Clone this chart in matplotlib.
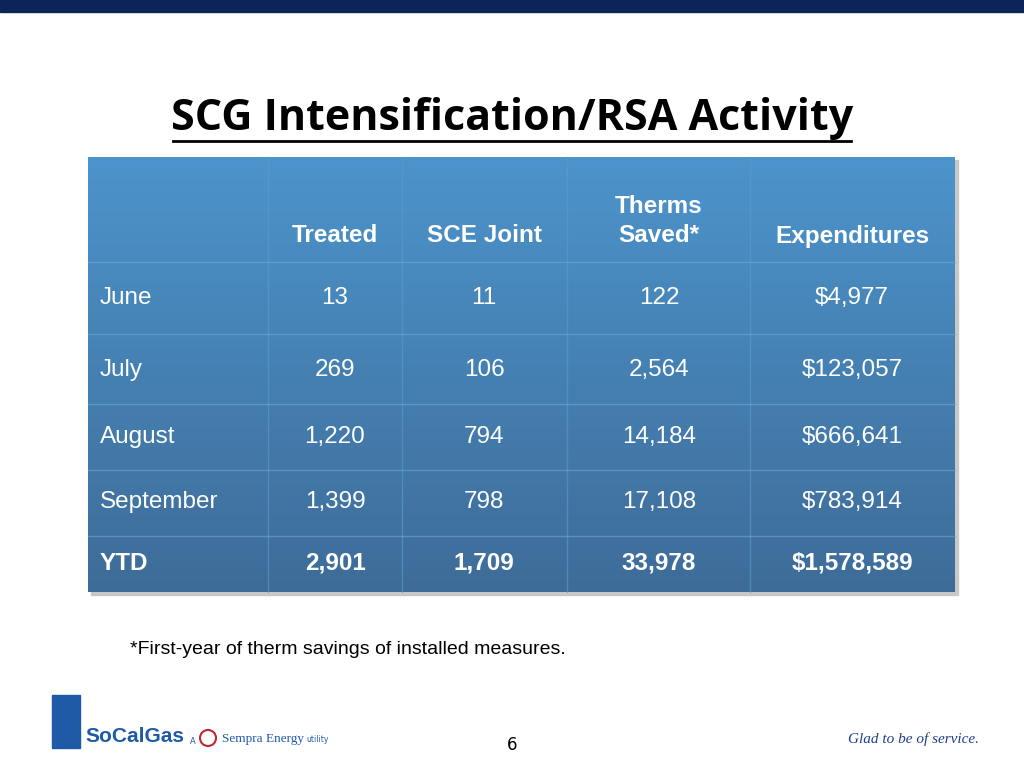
import numpy as np
import matplotlib.pyplot as plt
from matplotlib.patches import Rectangle

headers = ["", "Treated", "SCE Joint", "Therms\nSaved*", "Expenditures"]
months = ["June", "July", "August", "September", "YTD"]
treated = ["13", "269", "1,220", "1,399", "2,901"]
sce_joint = ["11", "106", "794", "798", "1,709"]
therms = ["122", "2,564", "14,184", "17,108", "33,978"]
expend = ["$4,977", "$123,057", "$666,641", "$783,914", "$1,578,589"]

fig = plt.figure(figsize=(10.24, 7.68), dpi=100)
ax = fig.add_axes([0, 0, 1, 1])
ax.set_xlim(0, 1024)
ax.set_ylim(768, 0)
ax.axis("off")

# top band
ax.add_patch(Rectangle((0, 0), 1024, 12, color="#0c2458"))

ax.text(512, 118, "SCG Intensification/RSA Activity", ha="center", va="center",
        fontsize=31, fontweight="bold", family="Open Sans", color="black")
ax.plot([173, 851], [141, 141], color="black", lw=2)

# table panel with gradient
x0, x1, y0, y1 = 88, 955, 157, 592
ax.add_patch(Rectangle((x0 + 3, y0 + 3), x1 - x0, y1 - y0, color="#c8c8c8", zorder=0))
top = np.array([0x4c, 0x94, 0xcc]) / 255
bot = np.array([0x3e, 0x6c, 0x98]) / 255
t = np.linspace(0, 1, 256)[:, None, None]
grad = top * (1 - t) + bot * t
ax.imshow(np.repeat(grad, 2, axis=1), extent=(x0, x1, y1, y0), aspect="auto", zorder=1)

cols = [x0, 268, 402, 567, 750, x1]
for cx in cols[1:-1]:
    ax.plot([cx, cx], [y0, y1], color="#5a9ccf", lw=1, alpha=0.6, zorder=2)
for ry in [262, 334, 404, 470, 536]:
    ax.plot([x0, x1], [ry, ry], color="#6aa8d8", lw=1, alpha=0.6, zorder=2)

fs = 17.5
centers = [None, 335, 484, 659, 852]
for i, h in enumerate(headers[1:], start=1):
    ax.text(centers[i], 236 if "\n" not in h else 221, h, ha="center", va="center",
            fontsize=fs, fontweight="bold", color="white", family="Liberation Sans",
            linespacing=1.35, zorder=3)

row_y = [298, 370, 437, 502, 563]
for r, m in enumerate(months):
    bold = "bold" if m == "YTD" else "normal"
    ax.text(100, row_y[r], m, ha="left", va="center", fontsize=fs,
            fontweight=bold, color="white", family="Liberation Sans", zorder=3)
    for c, col in enumerate([treated, sce_joint, therms, expend], start=1):
        ax.text(centers[c], row_y[r], col[r], ha="center", va="center", fontsize=fs,
                fontweight=bold, color="white", family="Liberation Sans", zorder=3)

ax.text(130, 649, "*First-year of therm savings of installed measures.", ha="left",
        va="center", fontsize=14, color="black", family="Liberation Sans")

# logo area
ax.add_patch(Rectangle((52, 695), 28, 53, color="#1f5aa6"))
ax.text(85, 736, "SoCalGas", ha="left", va="center", fontsize=15, fontweight="bold",
        color="#1f5aa6", family="Liberation Sans")
ax.text(190, 741, "A", fontsize=6, va="center", color="#1f5aa6")
ax.add_patch(plt.Circle((208, 738), 8, fill=False, ec="#c0282d", lw=1.5))
ax.text(222, 739, "Sempra Energy", fontsize=9.5, va="center", color="#1f5aa6",
        family="Liberation Serif")
ax.text(306, 740, "utility", fontsize=5.5, va="center", color="#1f5aa6")
ax.text(512, 745, "6", ha="center", va="center", fontsize=12, color="black")
ax.text(848, 739, "Glad to be of service.", ha="left", va="center", fontsize=11,
        style="italic", color="#1f3f8a", family="Liberation Serif")

fig.savefig("out.png", dpi=100)
